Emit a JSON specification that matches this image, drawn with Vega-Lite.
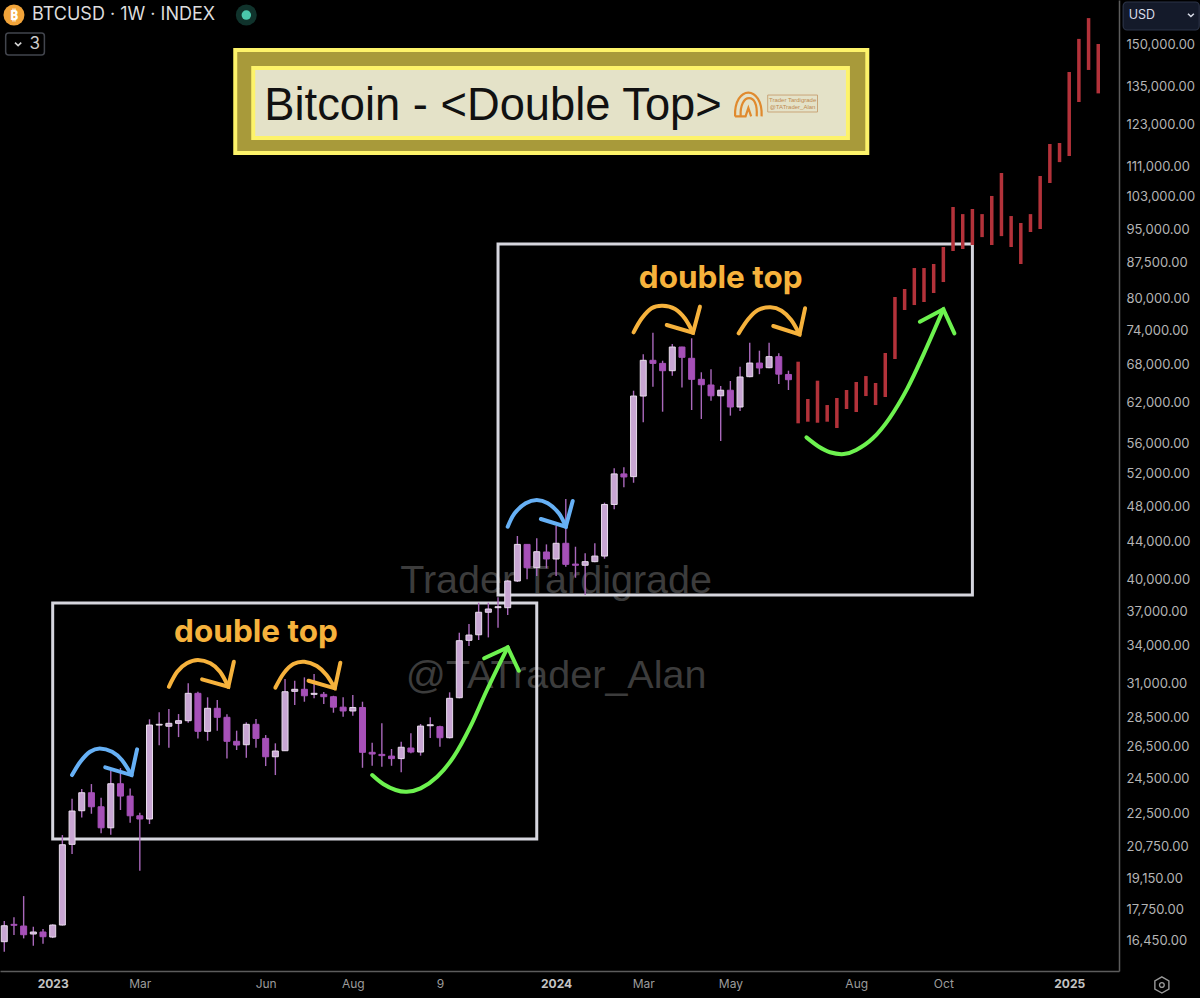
{
"$schema":"https://vega.github.io/schema/vega-lite/v6.json",
"width":1119,"height":971,"padding":{"left":0,"top":0,"right":81,"bottom":27},"autosize":{"type":"none"},"background":"#000000",
"config":{"view":{"stroke":null},"axis":{"grid":false}},
"datasets":{
"candles":[
{"date":"2022-11-28","open":16394,"close":17051,"high":17252,"low":15995},
{"date":"2022-12-05","open":17110,"close":17070,"high":17410,"low":16666},
{"date":"2022-12-12","open":17039,"close":16678,"high":18346,"low":16528},
{"date":"2022-12-19","open":16707,"close":16790,"high":17010,"low":16231},
{"date":"2022-12-26","open":16790,"close":16596,"high":16916,"low":16313},
{"date":"2023-01-02","open":16583,"close":17082,"high":17111,"low":16541},
{"date":"2023-01-09","open":17082,"close":20822,"high":21325,"low":17060},
{"date":"2023-01-16","open":20842,"close":22627,"high":23319,"low":20350},
{"date":"2023-01-23","open":22644,"close":23671,"high":23883,"low":22274},
{"date":"2023-01-30","open":23671,"close":22866,"high":24184,"low":22476},
{"date":"2023-02-06","open":22866,"close":21710,"high":23377,"low":21415},
{"date":"2023-02-13","open":21710,"close":24202,"high":24991,"low":21342},
{"date":"2023-02-20","open":24202,"close":23477,"high":25158,"low":22683},
{"date":"2023-02-27","open":23477,"close":22364,"high":23924,"low":21983},
{"date":"2023-03-06","open":22364,"close":22186,"high":22532,"low":19530},
{"date":"2023-03-13","open":22186,"close":27971,"high":28370,"low":21912},
{"date":"2023-03-20","open":27971,"close":28021,"high":28863,"low":26605},
{"date":"2023-03-27","open":27890,"close":28090,"high":29100,"low":26445},
{"date":"2023-04-03","open":28090,"close":28272,"high":28741,"low":27153},
{"date":"2023-04-10","open":28272,"close":30246,"high":31002,"low":28132},
{"date":"2023-04-17","open":30246,"close":27542,"high":30367,"low":27065},
{"date":"2023-04-24","open":27542,"close":29150,"high":29951,"low":26911},
{"date":"2023-05-01","open":29150,"close":28510,"high":29752,"low":27584},
{"date":"2023-05-08","open":28510,"close":26871,"high":28720,"low":25749},
{"date":"2023-05-15","open":26871,"close":26625,"high":27584,"low":26301},
{"date":"2023-05-22","open":26645,"close":28021,"high":28160,"low":25801},
{"date":"2023-05-29","open":28021,"close":27065,"high":28391,"low":26445},
{"date":"2023-06-05","open":27065,"close":25867,"high":27290,"low":25280},
{"date":"2023-06-12","open":25867,"close":26236,"high":26738,"low":24726},
{"date":"2023-06-19","open":26255,"close":30367,"high":31326,"low":26236},
{"date":"2023-06-26","open":30397,"close":30548,"high":31203,"low":29385},
{"date":"2023-07-03","open":30548,"close":30065,"high":31460,"low":29627},
{"date":"2023-07-10","open":30172,"close":30246,"high":31730,"low":29877},
{"date":"2023-07-17","open":30172,"close":29995,"high":30344,"low":29458},
{"date":"2023-07-24","open":29995,"close":29232,"high":30065,"low":28835},
{"date":"2023-07-31","open":29232,"close":28957,"high":29951,"low":28552},
{"date":"2023-08-07","open":28957,"close":29210,"high":30125,"low":28620},
{"date":"2023-08-14","open":29210,"close":26152,"high":29627,"low":25173},
{"date":"2023-08-21","open":26152,"close":26041,"high":26780,"low":25298},
{"date":"2023-08-28","open":26020,"close":25940,"high":28090,"low":25236},
{"date":"2023-09-04","open":25910,"close":25750,"high":26366,"low":25298},
{"date":"2023-09-11","open":25750,"close":26480,"high":26845,"low":24892},
{"date":"2023-09-18","open":26430,"close":26170,"high":27406,"low":26087},
{"date":"2023-09-25","open":26170,"close":27900,"high":28042,"low":25940},
{"date":"2023-10-02","open":27926,"close":27990,"high":28510,"low":27100},
{"date":"2023-10-09","open":27860,"close":27110,"high":27926,"low":26520},
{"date":"2023-10-16","open":27110,"close":29877,"high":30320,"low":27065},
{"date":"2023-10-23","open":29920,"close":34437,"high":35122,"low":29877},
{"date":"2023-10-30","open":34470,"close":34921,"high":35883,"low":33987},
{"date":"2023-11-06","open":34945,"close":36940,"high":37820,"low":34497},
{"date":"2023-11-13","open":36940,"close":37238,"high":37820,"low":34720},
{"date":"2023-11-20","open":37360,"close":37450,"high":38324,"low":35560},
{"date":"2023-11-27","open":37360,"close":39900,"high":39998,"low":36690},
{"date":"2023-12-04","open":39900,"close":43670,"high":44582,"low":39800},
{"date":"2023-12-11","open":43670,"close":41230,"high":43670,"low":40067},
{"date":"2023-12-18","open":41230,"close":42890,"high":44330,"low":40400},
{"date":"2023-12-25","open":42860,"close":42125,"high":43670,"low":41170},
{"date":"2024-01-01","open":42125,"close":43790,"high":45700,"low":40400},
{"date":"2024-01-08","open":43790,"close":41575,"high":48840,"low":41340},
{"date":"2024-01-15","open":41600,"close":41480,"high":43420,"low":40225},
{"date":"2024-01-22","open":41480,"close":41850,"high":42720,"low":38550},
{"date":"2024-01-29","open":41850,"close":42430,"high":43790,"low":41780},
{"date":"2024-02-05","open":42430,"close":48190,"high":48400,"low":42160},
{"date":"2024-02-12","open":48190,"close":51960,"high":52680,"low":47620},
{"date":"2024-02-19","open":51960,"close":51570,"high":52810,"low":50270},
{"date":"2024-02-26","open":51610,"close":62960,"high":63795,"low":50840},
{"date":"2024-03-04","open":62960,"close":68760,"high":69790,"low":59010},
{"date":"2024-03-11","open":68760,"close":68240,"high":73610,"low":64420},
{"date":"2024-03-18","open":68240,"close":67020,"high":68690,"low":60575},
{"date":"2024-03-25","open":67020,"close":71050,"high":71590,"low":66200},
{"date":"2024-04-01","open":71050,"close":69270,"high":71110,"low":64320},
{"date":"2024-04-08","open":69100,"close":65610,"high":72600,"low":60830},
{"date":"2024-04-15","open":65610,"close":64740,"high":66760,"low":59500},
{"date":"2024-04-22","open":64700,"close":63000,"high":67240,"low":62240},
{"date":"2024-04-29","open":63000,"close":63870,"high":64540,"low":56350},
{"date":"2024-05-06","open":63870,"close":61280,"high":65340,"low":59990},
{"date":"2024-05-13","open":61280,"close":65990,"high":67680,"low":60680},
{"date":"2024-05-20","open":66040,"close":68300,"high":71800,"low":65940},
{"date":"2024-05-27","open":68300,"close":67470,"high":70410,"low":66450},
{"date":"2024-06-03","open":67520,"close":69380,"high":71800,"low":67420},
{"date":"2024-06-10","open":69380,"close":66450,"high":69960,"low":64870},
{"date":"2024-06-17","open":66400,"close":65550,"high":67020,"low":63905}
],
"projection":[
{"date":"2024-06-24","high":68525,"low":58864},
{"date":"2024-07-01","high":62500,"low":59100},
{"date":"2024-07-08","high":65390,"low":58950},
{"date":"2024-07-15","high":61580,"low":59100},
{"date":"2024-07-22","high":62660,"low":58190},
{"date":"2024-07-29","high":63905,"low":60980},
{"date":"2024-08-05","high":65180,"low":60530},
{"date":"2024-08-12","high":66140,"low":62960},
{"date":"2024-08-19","high":65020,"low":61580},
{"date":"2024-08-26","high":70010,"low":62810},
{"date":"2024-09-02","high":80380,"low":68980},
{"date":"2024-09-09","high":81980,"low":77840},
{"date":"2024-09-16","high":86330,"low":78800},
{"date":"2024-09-23","high":86330,"low":79390},
{"date":"2024-09-30","high":87190,"low":81170},
{"date":"2024-10-07","high":90920,"low":83400},
{"date":"2024-10-14","high":100350,"low":90030},
{"date":"2024-10-21","high":98610,"low":90480},
{"date":"2024-10-28","high":99860,"low":91370},
{"date":"2024-11-04","high":98610,"low":93170},
{"date":"2024-11-11","high":103120,"low":91370},
{"date":"2024-11-18","high":109130,"low":93400},
{"date":"2024-11-25","high":98140,"low":90920},
{"date":"2024-12-02","high":96470,"low":87190},
{"date":"2024-12-09","high":98610,"low":94350},
{"date":"2024-12-16","high":108320,"low":95050},
{"date":"2024-12-23","high":117220,"low":106470},
{"date":"2024-12-30","high":117510,"low":112100},
{"date":"2025-01-06","high":140000,"low":113800},
{"date":"2025-01-13","high":151900,"low":130010},
{"date":"2025-01-20","high":159900,"low":140700},
{"date":"2025-01-27","high":150000,"low":132800}
],
"arrows":[
{"arrow":"b1","color":"blue","part":"curve","date":"2023-01-16","price":24726},
{"arrow":"b1","color":"blue","part":"curve","date":"2023-01-22","price":25553},
{"arrow":"b1","color":"blue","part":"curve","date":"2023-01-29","price":26190},
{"arrow":"b1","color":"blue","part":"curve","date":"2023-02-05","price":26405},
{"arrow":"b1","color":"blue","part":"curve","date":"2023-02-14","price":26190},
{"arrow":"b1","color":"blue","part":"curve","date":"2023-02-21","price":25660},
{"arrow":"b1","color":"blue","part":"curve","date":"2023-02-28","price":24726},
{"arrow":"b1","color":"blue","part":"head","date":"2023-02-09","price":25202},
{"arrow":"b1","color":"blue","part":"head","date":"2023-02-28","price":24726},
{"arrow":"b1","color":"blue","part":"head","date":"2023-03-04","price":26345},
{"arrow":"o1","color":"orange","part":"curve","date":"2023-03-27","price":30740},
{"arrow":"o1","color":"orange","part":"curve","date":"2023-04-02","price":31903},
{"arrow":"o1","color":"orange","part":"curve","date":"2023-04-09","price":32568},
{"arrow":"o1","color":"orange","part":"curve","date":"2023-04-17","price":32837},
{"arrow":"o1","color":"orange","part":"curve","date":"2023-04-26","price":32568},
{"arrow":"o1","color":"orange","part":"curve","date":"2023-05-03","price":31903},
{"arrow":"o1","color":"orange","part":"curve","date":"2023-05-09","price":30740},
{"arrow":"o1","color":"orange","part":"head","date":"2023-04-20","price":31310},
{"arrow":"o1","color":"orange","part":"head","date":"2023-05-09","price":30740},
{"arrow":"o1","color":"orange","part":"head","date":"2023-05-13","price":32700},
{"arrow":"o2","color":"orange","part":"curve","date":"2023-06-12","price":30670},
{"arrow":"o2","color":"orange","part":"curve","date":"2023-06-18","price":31775},
{"arrow":"o2","color":"orange","part":"curve","date":"2023-06-25","price":32512},
{"arrow":"o2","color":"orange","part":"curve","date":"2023-07-03","price":32700},
{"arrow":"o2","color":"orange","part":"curve","date":"2023-07-12","price":32350},
{"arrow":"o2","color":"orange","part":"curve","date":"2023-07-19","price":31640},
{"arrow":"o2","color":"orange","part":"curve","date":"2023-07-25","price":30620},
{"arrow":"o2","color":"orange","part":"head","date":"2023-07-06","price":31200},
{"arrow":"o2","color":"orange","part":"head","date":"2023-07-25","price":30620},
{"arrow":"o2","color":"orange","part":"head","date":"2023-07-29","price":32620},
{"arrow":"g1","color":"green","part":"curve","date":"2023-08-21","price":24726},
{"arrow":"g1","color":"green","part":"curve","date":"2023-08-29","price":24184},
{"arrow":"g1","color":"green","part":"curve","date":"2023-09-07","price":23830},
{"arrow":"g1","color":"green","part":"curve","date":"2023-09-15","price":23730},
{"arrow":"g1","color":"green","part":"curve","date":"2023-09-25","price":23925},
{"arrow":"g1","color":"green","part":"curve","date":"2023-10-07","price":24620},
{"arrow":"g1","color":"green","part":"curve","date":"2023-10-19","price":25870},
{"arrow":"g1","color":"green","part":"curve","date":"2023-10-31","price":27860},
{"arrow":"g1","color":"green","part":"curve","date":"2023-11-12","price":30495},
{"arrow":"g1","color":"green","part":"curve","date":"2023-11-27","price":33880},
{"arrow":"g1","color":"green","part":"head","date":"2023-11-10","price":32975},
{"arrow":"g1","color":"green","part":"head","date":"2023-11-27","price":33880},
{"arrow":"g1","color":"green","part":"head","date":"2023-12-05","price":31980},
{"arrow":"b2","color":"blue","part":"curve","date":"2023-11-27","price":45610},
{"arrow":"b2","color":"blue","part":"curve","date":"2023-12-02","price":47150},
{"arrow":"b2","color":"blue","part":"curve","date":"2023-12-10","price":48325},
{"arrow":"b2","color":"blue","part":"curve","date":"2023-12-18","price":48722},
{"arrow":"b2","color":"blue","part":"curve","date":"2023-12-26","price":48325},
{"arrow":"b2","color":"blue","part":"curve","date":"2024-01-03","price":47150},
{"arrow":"b2","color":"blue","part":"curve","date":"2024-01-08","price":45610},
{"arrow":"b2","color":"blue","part":"head","date":"2023-12-21","price":46490},
{"arrow":"b2","color":"blue","part":"head","date":"2024-01-08","price":45610},
{"arrow":"b2","color":"blue","part":"head","date":"2024-01-13","price":48600},
{"arrow":"o3","color":"orange","part":"curve","date":"2024-02-26","price":73675},
{"arrow":"o3","color":"orange","part":"curve","date":"2024-03-03","price":76265},
{"arrow":"o3","color":"orange","part":"curve","date":"2024-03-10","price":78170},
{"arrow":"o3","color":"orange","part":"curve","date":"2024-03-18","price":78670},
{"arrow":"o3","color":"orange","part":"curve","date":"2024-03-27","price":78035},
{"arrow":"o3","color":"orange","part":"curve","date":"2024-04-03","price":76265},
{"arrow":"o3","color":"orange","part":"curve","date":"2024-04-09","price":73600},
{"arrow":"o3","color":"orange","part":"head","date":"2024-03-21","price":75010},
{"arrow":"o3","color":"orange","part":"head","date":"2024-04-09","price":73600},
{"arrow":"o3","color":"orange","part":"head","date":"2024-04-14","price":78490},
{"arrow":"o4","color":"orange","part":"curve","date":"2024-05-12","price":73490},
{"arrow":"o4","color":"orange","part":"curve","date":"2024-05-19","price":76130},
{"arrow":"o4","color":"orange","part":"curve","date":"2024-05-26","price":77842},
{"arrow":"o4","color":"orange","part":"curve","date":"2024-06-04","price":78370},
{"arrow":"o4","color":"orange","part":"curve","date":"2024-06-12","price":77710},
{"arrow":"o4","color":"orange","part":"curve","date":"2024-06-19","price":75946},
{"arrow":"o4","color":"orange","part":"curve","date":"2024-06-25","price":73310},
{"arrow":"o4","color":"orange","part":"head","date":"2024-06-06","price":74830},
{"arrow":"o4","color":"orange","part":"head","date":"2024-06-25","price":73310},
{"arrow":"o4","color":"orange","part":"head","date":"2024-06-29","price":78170},
{"arrow":"g2","color":"green","part":"curve","date":"2024-06-30","price":56860},
{"arrow":"g2","color":"green","part":"curve","date":"2024-07-09","price":55560},
{"arrow":"g2","color":"green","part":"curve","date":"2024-07-17","price":54810},
{"arrow":"g2","color":"green","part":"curve","date":"2024-07-27","price":54570},
{"arrow":"g2","color":"green","part":"curve","date":"2024-08-05","price":55116},
{"arrow":"g2","color":"green","part":"curve","date":"2024-08-17","price":56730},
{"arrow":"g2","color":"green","part":"curve","date":"2024-08-29","price":59600},
{"arrow":"g2","color":"green","part":"curve","date":"2024-09-11","price":64170},
{"arrow":"g2","color":"green","part":"curve","date":"2024-09-23","price":69950},
{"arrow":"g2","color":"green","part":"curve","date":"2024-10-07","price":77980},
{"arrow":"g2","color":"green","part":"head","date":"2024-09-20","price":75630},
{"arrow":"g2","color":"green","part":"head","date":"2024-10-07","price":77980},
{"arrow":"g2","color":"green","part":"head","date":"2024-10-15","price":73490}
]
},
"encoding":{
"x":{"field":"date","type":"temporal","title":null,
"scale":{"type":"utc","nice":false,"padding":0,"domain":[{"year":2022,"month":11,"date":24,"hours":21,"minutes":36,"utc":true},{"year":2025,"month":2,"date":11,"utc":true}]},
"axis":{"orient":"bottom","title":null,"grid":false,"tickSize":0,"domainColor":"#5c5c5c","domainWidth":1.5,"labelPadding":7,"labelFont":"Inter","labelFontSize":12,"labelOverlap":false,"labelFlush":false,
"values":[{"year":2023,"month":1,"date":2,"utc":true},{"year":2023,"month":3,"date":6,"utc":true},{"year":2023,"month":6,"date":5,"utc":true},{"year":2023,"month":8,"date":7,"utc":true},{"year":2023,"month":10,"date":9,"utc":true},{"year":2024,"month":1,"date":1,"utc":true},{"year":2024,"month":3,"date":4,"utc":true},{"year":2024,"month":5,"date":6,"utc":true},{"year":2024,"month":8,"date":5,"utc":true},{"year":2024,"month":10,"date":7,"utc":true},{"year":2025,"month":1,"date":6,"utc":true}],
"labelExpr":"utcmonth(datum.value)==0 ? ''+utcyear(datum.value) : (utcyear(datum.value)==2023 && utcmonth(datum.value)==9 ? '9' : utcFormat(datum.value,'%b'))",
"labelFontWeight":{"condition":{"test":"utcmonth(datum.value)==0","value":"bold"},"value":"normal"},
"labelColor":{"condition":{"test":"utcmonth(datum.value)==0","value":"#c4c4c4"},"value":"#9c9c9c"}}}
},
"layer":[
{"data":{"values":[{"date":"2024-01-01","price":39900,"label":"Trader Tardigrade"},{"date":"2024-01-01","price":31566,"label":"@TATrader_Alan"}]},
"mark":{"type":"text","font":"Liberation Sans","fontSize":39.5,"color":"#3c3c3c","align":"center","baseline":"middle"},
"encoding":{"y":{"field":"price","type":"quantitative","title":null,"scale":{"type":"log","domain":[15251,167194],"nice":false},
"axis":{"orient":"right","title":null,"grid":false,"tickSize":0,"domainColor":"#5c5c5c","domainWidth":1.5,"labelPadding":7,"labelFont":"Inter","labelFontSize":13,"labelColor":"#b4b4b4","labelOverlap":false,"format":",.2f","values":[16450,17750,19150,20750,22500,24500,26500,28500,31000,34000,37000,40000,44000,48000,52000,56000,62000,68000,74000,80000,87500,95000,103000,111000,123000,135000,150000]}},"text":{"field":"label"}}},
{"data":{"values":[{"date":"2023-05-14","date2":"2024-08-13","price":147799,"price2":114640}]},
"mark":{"type":"rect","fill":"#a89a3a","stroke":"#fdf36a","strokeWidth":4},
"encoding":{"x2":{"field":"date2"},"y":{"field":"price","type":"quantitative"},"y2":{"field":"price2"}}},
{"data":{"values":[{"date":"2023-05-27","date2":"2024-07-30","price":141380,"price2":118940}]},
"mark":{"type":"rect","fill":"#e4e2c8","stroke":"#fdf36a","strokeWidth":4},
"encoding":{"x2":{"field":"date2"},"y":{"field":"price","type":"quantitative"},"y2":{"field":"price2"}}},
{"data":{"values":[{"date":"2023-06-04","price":124366,"label":"Bitcoin - <Double Top>"}]},
"mark":{"type":"text","font":"Liberation Sans","fontSize":45.3,"color":"#111111","align":"left","baseline":"alphabetic"},
"encoding":{"y":{"field":"price","type":"quantitative"},"text":{"field":"label"}}},
{"data":{"values":[{"date":"2024-06-02","date2":"2024-07-08","price":132260,"price2":126840}]},
"mark":{"type":"rect","fillOpacity":0,"stroke":"#c9a578","strokeWidth":1},
"encoding":{"x2":{"field":"date2"},"y":{"field":"price","type":"quantitative"},"y2":{"field":"price2"}}},
{"data":{"values":[{"date":"2024-06-20","price":130654,"label":"Trader Tardigrade"},{"date":"2024-06-20","price":128415,"label":"@TATrader_Alan"}]},
"mark":{"type":"text","font":"Liberation Sans","fontSize":6,"color":"#c08a50","align":"center","baseline":"middle"},
"encoding":{"y":{"field":"price","type":"quantitative"},"text":{"field":"label"}}},
{"data":{"values":[{"date":"2024-05-19","price":129000}]},
"mark":{"type":"point","filled":false,"size":780,"strokeWidth":2.2,"color":"#e08a2e","opacity":1,"shape":"M-0.95,0.8 C-1,-0.3 -0.5,-0.9 0,-0.9 C0.5,-0.9 1,-0.3 0.95,0.8 M-0.55,0.8 C-0.6,0 -0.3,-0.5 0.05,-0.5 C0.4,-0.5 0.65,-0.1 0.6,0.8 M-0.95,0.8 L-0.2,0.8 L0,0.2 L0.2,0.8"},
"encoding":{"y":{"field":"price","type":"quantitative"}}},
{"data":{"values":[{"date":"2023-01-02","date2":"2023-12-18","price":37800,"price2":21120},{"date":"2023-11-20","date2":"2024-10-28","price":91600,"price2":38550}]},
"mark":{"type":"rect","fillOpacity":0,"stroke":"#d6d6de","strokeWidth":3},
"encoding":{"x2":{"field":"date2"},"y":{"field":"price","type":"quantitative"},"y2":{"field":"price2"}}},
{"data":{"name":"candles"},
"mark":{"type":"rule","strokeWidth":1.4,"color":"#a968bb"},
"encoding":{"y":{"field":"high","type":"quantitative"},"y2":{"field":"low"}}},
{"data":{"name":"candles"},
"mark":{"type":"bar","size":6,"strokeWidth":1},
"encoding":{"y":{"field":"open","type":"quantitative"},"y2":{"field":"close"},
"fill":{"condition":{"test":"datum.close>=datum.open","value":"#c8a6d3"},"value":"#a650b8"},
"stroke":{"condition":{"test":"datum.close>=datum.open","value":"#e8dcec"},"value":"#a650b8"}}},
{"data":{"name":"projection"},
"mark":{"type":"rule","strokeWidth":3.5,"color":"#b3323a"},
"encoding":{"y":{"field":"high","type":"quantitative"},"y2":{"field":"low"}}},
{"data":{"name":"arrows"},"transform":[{"filter":"datum.part=='curve'"}],
"mark":{"type":"line","interpolate":"cardinal","strokeWidth":4,"strokeCap":"round"},
"encoding":{"y":{"field":"price","type":"quantitative"},"detail":{"field":"arrow"},
"color":{"field":"color","type":"nominal","legend":null,"scale":{"domain":["blue","orange","green"],"range":["#66b0f5","#f6b23c","#6df24f"]}}}},
{"data":{"name":"arrows"},"transform":[{"filter":"datum.part=='head'"}],
"mark":{"type":"line","interpolate":"linear","strokeWidth":4,"strokeCap":"round","strokeJoin":"miter"},
"encoding":{"y":{"field":"price","type":"quantitative"},"detail":{"field":"arrow"},
"color":{"field":"color","type":"nominal","legend":null,"scale":{"domain":["blue","orange","green"],"range":["#66b0f5","#f6b23c","#6df24f"]}}}},
{"data":{"values":[{"date":"2023-05-29","price":35096,"label":"double top"},{"date":"2024-04-29","price":84025,"label":"double top"}]},
"mark":{"type":"text","font":"Inter","fontSize":31.5,"fontWeight":"bold","color":"#f6b23c","align":"center","baseline":"middle"},
"encoding":{"y":{"field":"price","type":"quantitative"},"text":{"field":"label"}}},
{"data":{"values":[{"date":"2022-12-05","price":161106}]},
"mark":{"type":"point","filled":true,"shape":"circle","size":441,"color":"#f2a43a","opacity":1},
"encoding":{"y":{"field":"price","type":"quantitative"}}},
{"data":{"values":[{"date":"2022-12-05","price":161106,"label":"₿"}]},
"mark":{"type":"text","font":"Noto Sans","fontSize":15,"fontWeight":"bold","color":"#ffffff","align":"center","baseline":"middle"},
"encoding":{"y":{"field":"price","type":"quantitative"},"text":{"field":"label"}}},
{"data":{"values":[{"date":"2022-12-18","price":161106,"label":"BTCUSD · 1W · INDEX"}]},
"mark":{"type":"text","font":"Inter","fontSize":18,"color":"#dcdcdc","align":"left","baseline":"middle"},
"encoding":{"y":{"field":"price","type":"quantitative"},"text":{"field":"label"}}},
{"data":{"values":[{"date":"2023-05-22","price":161106}]},
"mark":{"type":"point","filled":true,"shape":"circle","size":441,"color":"#10332c","opacity":1},
"encoding":{"y":{"field":"price","type":"quantitative"}}},
{"data":{"values":[{"date":"2023-05-22","price":161106}]},
"mark":{"type":"point","filled":true,"shape":"circle","size":90,"color":"#4ac6ab","opacity":1},
"encoding":{"y":{"field":"price","type":"quantitative"}}},
{"data":{"values":[{"date":"2022-11-29","date2":"2022-12-27","price":154120,"price2":145970}]},
"mark":{"type":"rect","fillOpacity":0,"stroke":"#42454d","strokeWidth":1.5,"cornerRadius":3},
"encoding":{"x2":{"field":"date2"},"y":{"field":"price","type":"quantitative"},"y2":{"field":"price2"}}},
{"data":{"values":[{"date":"2022-12-08","price":150000}]},
"mark":{"type":"point","filled":false,"size":80,"strokeWidth":1.6,"color":"#d4d4d4","opacity":1,"shape":"M-0.7,-0.3 L0,0.35 L0.7,-0.3"},
"encoding":{"y":{"field":"price","type":"quantitative"}}},
{"data":{"values":[{"date":"2022-12-20","price":150000,"label":"3"}]},
"mark":{"type":"text","font":"Inter","fontSize":17,"color":"#cccccc","align":"center","baseline":"middle"},
"encoding":{"y":{"field":"price","type":"quantitative"},"text":{"field":"label"}}},
{"data":{"values":[{"date":"2025-02-14","date2":"2025-04-10","price":166380,"price2":155271}]},
"mark":{"type":"rect","fill":"#141a2a","stroke":"#2b3347","strokeWidth":1.2,"cornerRadius":4},
"encoding":{"x2":{"field":"date2"},"y":{"field":"price","type":"quantitative"},"y2":{"field":"price2"}}},
{"data":{"values":[{"date":"2025-02-18","price":161106,"label":"USD"}]},
"mark":{"type":"text","font":"Inter","fontSize":12.5,"color":"#d8dce8","align":"left","baseline":"middle"},
"encoding":{"y":{"field":"price","type":"quantitative"},"text":{"field":"label"}}},
{"data":{"values":[{"date":"2025-04-04","price":161106}]},
"mark":{"type":"point","filled":false,"size":70,"strokeWidth":1.6,"color":"#d8dce8","opacity":1,"shape":"M-0.7,-0.3 L0,0.35 L0.7,-0.3"},
"encoding":{"y":{"field":"price","type":"quantitative"}}},
{"data":{"values":[{"date":"2025-03-14","price":14734}]},
"mark":{"type":"point","filled":false,"size":260,"strokeWidth":1.4,"color":"#9a9a9a","opacity":1,"shape":"M0,-1 L0.87,-0.5 L0.87,0.5 L0,1 L-0.87,0.5 L-0.87,-0.5 Z"},
"encoding":{"y":{"field":"price","type":"quantitative"}}},
{"data":{"values":[{"date":"2025-03-14","price":14734}]},
"mark":{"type":"point","filled":false,"size":22,"strokeWidth":1.4,"color":"#9a9a9a","opacity":1,"shape":"circle"},
"encoding":{"y":{"field":"price","type":"quantitative"}}}
]
}
